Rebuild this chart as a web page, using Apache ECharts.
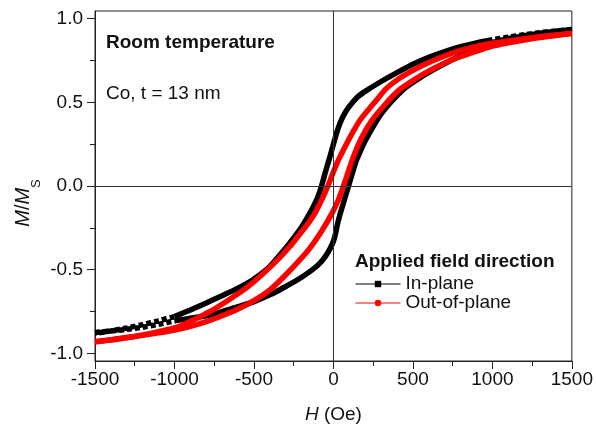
<!DOCTYPE html>
<html>
<head>
<meta charset="utf-8">
<title>M/Ms vs H</title>
<script src="https://cdn.jsdelivr.net/npm/echarts@6/dist/echarts.min.js"></script>
<style>
  html, body { margin: 0; padding: 0; background: #fff; }
  #chart { width: 596px; height: 431px; }
</style>
</head>
<body>
<div id="chart"></div>
<script>
// tick values
var xTicks = [-1500, -1000, -500, 0, 500, 1000, 1500];
var yTicks = [-1.0, -0.5, 0.0, 0.5, 1.0];
var yMinorTicks = [-0.75, -0.25, 0.25, 0.75];

// in-plane loop, [H (Oe), M/Ms]; field swept down from +1500
var inPlaneDown = [
  [1500, 0.935], [1400, 0.926], [1300, 0.916], [1200, 0.903], [1100, 0.889], [1000, 0.873],
  [900, 0.855], [800, 0.832], [700, 0.803], [600, 0.768], [500, 0.727], [400, 0.677],
  [300, 0.624], [200, 0.565], [150, 0.530], [100, 0.475], [60, 0.415], [30, 0.345],
  [0, 0.250], [-25, 0.165], [-50, 0.085], [-75, 0.0], [-100, -0.07], [-150, -0.165],
  [-200, -0.245], [-250, -0.31], [-300, -0.37], [-400, -0.48], [-500, -0.555], [-600, -0.61],
  [-700, -0.655], [-800, -0.698], [-900, -0.74], [-1000, -0.78], [-1100, -0.805],
  [-1200, -0.828], [-1300, -0.848], [-1400, -0.865], [-1500, -0.88]
];
// in-plane loop, field swept up from -1500
var inPlaneUp = [
  [-1500, -0.875], [-1400, -0.866], [-1300, -0.856], [-1200, -0.843], [-1100, -0.826],
  [-1000, -0.805], [-900, -0.79], [-800, -0.775], [-700, -0.75], [-600, -0.72], [-500, -0.69],
  [-400, -0.65], [-300, -0.60], [-200, -0.545], [-100, -0.475], [-50, -0.42], [0, -0.33],
  [30, -0.21], [60, -0.11], [95, 0.0], [120, 0.08], [145, 0.155], [175, 0.22], [200, 0.27],
  [250, 0.355], [300, 0.43], [360, 0.5], [450, 0.585], [550, 0.65], [650, 0.705], [750, 0.755],
  [850, 0.8], [950, 0.84], [1000, 0.857], [1100, 0.88], [1200, 0.897], [1300, 0.912],
  [1400, 0.924], [1500, 0.934]
];
// out-of-plane loop, field swept down
var outPlaneDown = [
  [1500, 0.912], [1400, 0.902], [1300, 0.891], [1200, 0.879], [1100, 0.866], [1000, 0.852],
  [900, 0.834], [800, 0.81], [700, 0.776], [600, 0.737], [500, 0.69], [400, 0.633],
  [330, 0.58], [273, 0.515], [220, 0.455], [168, 0.394], [130, 0.335], [95, 0.275],
  [60, 0.21], [31, 0.155], [0, 0.085], [-35, 0.0], [-70, -0.075], [-115, -0.16],
  [-160, -0.225], [-210, -0.285], [-273, -0.36], [-350, -0.44], [-450, -0.53], [-550, -0.61],
  [-650, -0.675], [-750, -0.735], [-850, -0.785], [-950, -0.83], [-1000, -0.848],
  [-1100, -0.87], [-1200, -0.889], [-1300, -0.905], [-1400, -0.918], [-1500, -0.93]
];
// out-of-plane loop, field swept up
var outPlaneUp = [
  [-1500, -0.93], [-1400, -0.92], [-1300, -0.906], [-1200, -0.892], [-1100, -0.877],
  [-1000, -0.86], [-900, -0.838], [-800, -0.81], [-700, -0.775], [-600, -0.735], [-500, -0.685],
  [-400, -0.62], [-315, -0.545], [-210, -0.44], [-147, -0.37], [-75, -0.27], [-10, -0.165],
  [30, -0.085], [63, 0.0], [90, 0.075], [116, 0.15], [168, 0.27], [241, 0.39], [346, 0.51],
  [409, 0.57], [500, 0.63], [567, 0.67], [700, 0.735], [777, 0.765], [900, 0.805],
  [1000, 0.835], [1100, 0.855], [1200, 0.872], [1300, 0.887], [1400, 0.899], [1500, 0.91]
];

var FONT = '"Liberation Sans", Arial, sans-serif';

function segment(points, lo, hi) {
  return points.filter(function (p) { return p[0] >= lo && p[0] <= hi; });
}

function curve(name, points, color, symbol, dashed) {
  return {
    name: name,
    type: 'line',
    data: points,
    symbol: symbol,
    showSymbol: false,
    smooth: 0.3,
    silent: true,
    itemStyle: { color: color },
    lineStyle: { color: color, width: 5.5, type: dashed ? [5, 3] : 'solid', cap: 'butt' },
    emphasis: { disabled: true }
  };
}

var chart = echarts.init(document.getElementById('chart'));

var series = [
  // zero lines
  {
    type: 'line', data: [], z: 1, silent: true,
    markLine: {
      silent: true, symbol: ['none', 'none'], label: { show: false },
      lineStyle: { color: '#333', width: 1, type: 'solid' },
      data: [{ xAxis: 0 }, { yAxis: 0 }]
    }
  },
  curve('In-plane', segment(inPlaneDown, -1000, 1000), '#000', 'rect', false),
  curve('In-plane', segment(inPlaneUp, -1000, 1000), '#000', 'rect', false),
  curve('In-plane', segment(inPlaneDown, 1000, 1500), '#000', 'rect', true),
  curve('In-plane', segment(inPlaneDown, -1500, -1000), '#000', 'rect', true),
  curve('In-plane', segment(inPlaneUp, 1000, 1500), '#000', 'rect', true),
  curve('In-plane', segment(inPlaneUp, -1500, -1000), '#000', 'rect', true),
  curve('Out-of-plane', outPlaneDown, '#f00', 'circle', false),
  curve('Out-of-plane', outPlaneUp, '#f00', 'circle', false)
];

var option = {
  animation: false,
  backgroundColor: '#fff',
  grid: {
    left: 95, right: 24, top: 11, bottom: 70,
    show: true, borderColor: '#222', borderWidth: 1
  },
  xAxis: {
    type: 'value',
    min: xTicks[0], max: xTicks[xTicks.length - 1], interval: 500,
    name: '{i|H} (Oe)',
    nameLocation: 'middle',
    nameGap: 44,
    nameTextStyle: {
      fontSize: 19, fontFamily: FONT, color: '#111',
      rich: { i: { fontStyle: 'italic', fontSize: 19, fontFamily: FONT, color: '#111' } }
    },
    axisLine: { show: true, onZero: false, lineStyle: { color: '#222', width: 1 } },
    axisTick: { show: true, length: 8, lineStyle: { color: '#222' } },
    minorTick: { show: true, splitNumber: 2, length: 5, lineStyle: { color: '#222' } },
    axisLabel: {
      fontSize: 19, fontFamily: FONT, color: '#111', margin: 9,
      formatter: function (v) { return String(v); }
    },
    splitLine: { show: false }
  },
  yAxis: [
    {
      type: 'value',
      min: -1.045, max: 1.045,
      axisLine: { show: true, onZero: false, lineStyle: { color: '#222', width: 1 } },
      axisTick: { show: true, length: 8, customValues: yTicks, lineStyle: { color: '#222' } },
      axisLabel: {
        customValues: yTicks, fontSize: 19, fontFamily: FONT, color: '#111', margin: 12,
        formatter: function (v) { return v.toFixed(1); }
      },
      splitLine: { show: false }
    },
    {
      type: 'value',
      position: 'left',
      min: -1.045, max: 1.045,
      axisLine: { show: false, onZero: false },
      axisTick: { show: true, length: 5, customValues: yMinorTicks, lineStyle: { color: '#222' } },
      axisLabel: { show: false },
      splitLine: { show: false }
    }
  ],
  legend: {
    data: ['In-plane', 'Out-of-plane'],
    orient: 'vertical',
    left: 355, top: 274.5,
    padding: 0,
    itemGap: 0,
    itemWidth: 45, itemHeight: 8,
    selectedMode: false,
    lineStyle: { width: 1, type: 'solid' },
    textStyle: { fontSize: 19, fontFamily: FONT, color: '#111', lineHeight: 19 }
  },
  graphic: [
    {
      type: 'text', x: 106, y: 42.6, silent: true,
      style: { text: 'Room temperature', font: 'bold 19px ' + FONT, fill: '#111', align: 'left', verticalAlign: 'middle' }
    },
    {
      type: 'text', x: 106, y: 93.4, silent: true,
      style: { text: 'Co, t = 13 nm', font: '19px ' + FONT, fill: '#111', align: 'left', verticalAlign: 'middle' }
    },
    {
      type: 'text', x: 355, y: 261.7, silent: true,
      style: { text: 'Applied field direction', font: 'bold 19px ' + FONT, fill: '#111', align: 'left', verticalAlign: 'middle' }
    },
    {
      type: 'text', x: 23, y: 203, rotation: Math.PI / 2, silent: true,
      style: {
        text: '{i|M}{n|/}{i|M}{s|S}',
        align: 'center', verticalAlign: 'middle',
        rich: {
          i: { fontStyle: 'italic', fontSize: 20, fontFamily: FONT, fill: '#111', lineHeight: 40 },
          n: { fontSize: 20, fontFamily: FONT, fill: '#111', lineHeight: 40 },
          s: { fontSize: 13, fontFamily: FONT, fill: '#111', lineHeight: 13, verticalAlign: 'bottom' }
        }
      }
    }
  ],
  series: series
};

chart.setOption(option);
</script>
</body>
</html>
